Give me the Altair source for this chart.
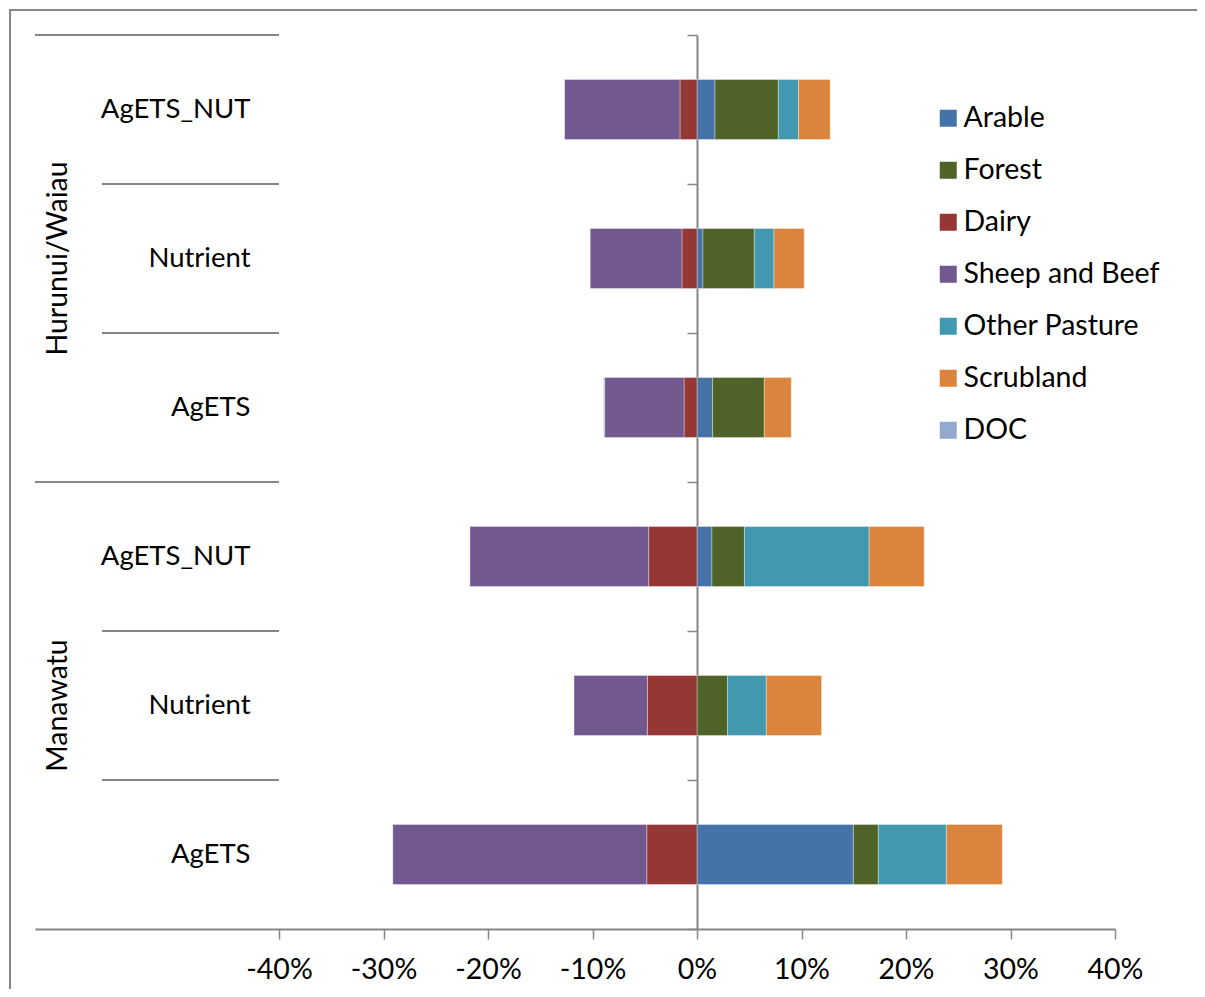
import altair as alt
import pandas as pd

groups = ["Hurunui/Waiau", "Manawatu"]
scenarios = ["AgETS_NUT", "Nutrient", "AgETS"]
series = ["Arable", "Forest", "Dairy", "Sheep and Beef", "Other Pasture", "Scrubland", "DOC"]
colors = ["#4572A7", "#4F6228", "#953735", "#71588F", "#4198AF", "#DB843D", "#93A9CF"]

# values in % ; order: HW AgETS_NUT, HW Nutrient, HW AgETS, MW AgETS_NUT, MW Nutrient, MW AgETS
arable = [1.72, 0.57, 1.49, 1.43, 0.0, 14.96]
forest = [6.06, 4.91, 4.95, 3.11, 2.93, 2.39]
dairy = [-1.63, -1.44, -1.24, -4.63, -4.75, -4.81]
sheep = [-11.04, -8.78, -7.60, -17.10, -7.02, -24.30]
other_pasture = [1.94, 1.88, 0.0, 11.93, 3.70, 6.51]
scrubland = [3.03, 2.90, 2.58, 5.27, 5.29, 5.36]
doc = [0.0, 0.0, -0.10, 0.0, 0.0, 0.0]

x_ticks = [-40, -30, -20, -10, 0, 10, 20, 30, 40]

cats = [f"{g}|{s}" for g in groups for s in scenarios]
vals = [arable, forest, dairy, sheep, other_pasture, scrubland, doc]
rows = []
for si, (name, v) in enumerate(zip(series, vals)):
    for ci, c in enumerate(cats):
        if v[ci] != 0:
            rows.append({"cat": c, "series": name, "idx": si, "value": v[ci]})
df = pd.DataFrame(rows)

GRAY = "#868686"
FONT_SIZE = 28.5

yscale = alt.Scale(domain=cats, paddingInner=0, paddingOuter=0)
xscale = alt.Scale(domain=[-63.35, 40], nice=False, zero=False)

yaxis = alt.Axis(title=None, offset=-662, domainColor=GRAY, domainWidth=2, tickColor=GRAY,
                 tickWidth=1.5, tickSize=10, tickBand="extent", labelPadding=437,
                 labelExpr="split(datum.label, '|')[1]", labelAlign="right",
                 labelFontSize=27.5, labelColor="black", labelLimit=400, grid=False)

bars = alt.Chart(df).mark_bar(size=60, stroke="white", strokeOpacity=0.35, strokeWidth=1).encode(
    x=alt.X("value:Q", stack="zero", scale=xscale,
            axis=alt.Axis(values=x_ticks, labelExpr="datum.value + '%'", title=None, grid=False,
                          domainColor=GRAY, domainWidth=2, tickColor=GRAY, tickWidth=1.5, tickSize=10,
                          labelFontSize=FONT_SIZE, labelColor="black", labelPadding=16,
                          labelFlush=False, labelOverlap=False)),
    y=alt.Y("cat:N", scale=yscale, axis=yaxis),
    color=alt.Color("series:N", scale=alt.Scale(domain=series, range=colors),
                    legend=alt.Legend(orient="none", legendX=899, legendY=69, title=None,
                                      symbolType="square", symbolSize=289, symbolStrokeWidth=0,
                                      labelFontSize=FONT_SIZE, labelColor="black", rowPadding=23,
                                      labelOffset=1, padding=0, labelLimit=400)),
    order=alt.Order("idx:Q"),
)

sep_df = pd.DataFrame({"cat": [cats[1], cats[2], cats[4], cats[5]]})
grp_df = pd.DataFrame({"cat": [cats[0], cats[3]]})

sub_lines = alt.Chart(sep_df).mark_rule(color=GRAY, strokeWidth=2).encode(
    y=alt.Y("cat:N", scale=yscale, axis=yaxis, bandPosition=0),
    x=alt.value(67), x2=alt.value(244),
)
grp_lines = alt.Chart(grp_df).mark_rule(color=GRAY, strokeWidth=2).encode(
    y=alt.Y("cat:N", scale=yscale, axis=yaxis, bandPosition=0),
    x=alt.value(0), x2=alt.value(244),
)

lab_df = pd.DataFrame({"cat": [cats[1], cats[4]], "group": groups})
group_labels = alt.Chart(lab_df).mark_text(angle=270, fontSize=FONT_SIZE, color="black",
                                           align="center", baseline="middle").encode(
    y=alt.Y("cat:N", scale=yscale, axis=yaxis),
    x=alt.value(23),
    text="group:N",
)

border = alt.Chart(pd.DataFrame({"a": [0]})).mark_rect(fill=None, stroke=GRAY, strokeWidth=2).encode(
    x=alt.value(-25), x2=alt.value(1200), y=alt.value(-25), y2=alt.value(1100),
)

chart = alt.layer(border, bars, sub_lines, grp_lines, group_labels).properties(
    width=1080, height=894,
    padding={"left": 27, "top": 27, "right": 82, "bottom": 60},
    autosize=alt.AutoSizeParams(type="none"),
).configure(font="Lato").configure_view(stroke=None)

chart.save("out.html", embed_options={"renderer": "svg", "actions": False})
